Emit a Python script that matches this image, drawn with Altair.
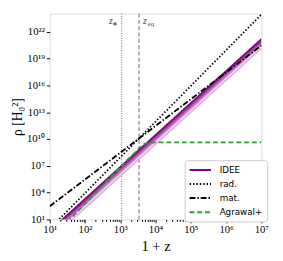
import altair as alt
import pandas as pd

# ---- data ----
x_ends = [1e1, 1e7]
# IDEE family (log10 rho at 1+z = 10 and 1+z = 1e7), dark -> light
idee_logy = [
    [-0.29, 21.2],
    [-0.49, 21.0],
    [-0.69, 20.8],
    [-0.89, 20.6],
    [-1.3, 20.2],
]
idee_colors = ["#800080", "#9b3a9b", "#b566b5", "#cc8fcc", "#ddb5df"]
rad_y = [0.9, 9e23]
mat_y = [300.0, 3e20]
agr_logx = [1.5, 1.68, 2.0, 2.5, 3.0, 3.2, 3.4, 3.5, 3.6, 3.7, 3.8, 4.0, 7.0]
agr_logy = [0.71, 1.45, 2.76, 4.81, 6.86, 7.68, 8.45, 8.85, 9.25, 9.5, 9.6, 9.63, 9.63]
z_star = 1090.0
z_eq = 3400.0

series_names = ["IDEE", "rad.", "mat.", "Agrawal+"]
series_colors = ["#800080", "black", "black", "#2ca02c"]
series_dash = [[1, 0], [1.5, 2], [6, 2, 1.5, 2], [5, 3]]

x_major = [1e1, 1e2, 1e3, 1e4, 1e5, 1e6, 1e7]
x_minor = [m * 10 ** k for k in range(1, 7) for m in range(2, 10)]
y_major = [1e1, 1e4, 1e7, 1e10, 1e13, 1e16, 1e19, 1e22]

# ---- tables ----
rows = []
for i in range(2):
    rows.append({"x": x_ends[i], "y": 10 ** idee_logy[0][i], "series": "IDEE", "o": i})
    rows.append({"x": x_ends[i], "y": rad_y[i], "series": "rad.", "o": i})
    rows.append({"x": x_ends[i], "y": mat_y[i], "series": "mat.", "o": i})
for i, (lx, ly) in enumerate(zip(agr_logx, agr_logy)):
    rows.append({"x": 10 ** lx, "y": 10 ** ly, "series": "Agrawal+", "o": i})
main = pd.DataFrame(rows)

SUP = "⁰¹²³⁴⁵⁶⁷⁸⁹"
E = "round(log(datum.value)/LN10)"
label_expr = (
    f"'10' + ({E} >= 10 ? substring('{SUP}', floor({E}/10), floor({E}/10)+1) : '') + "
    f"substring('{SUP}', {E} % 10, {E} % 10 + 1)"
)

xscale = alt.Scale(type="log", domain=[1e1, 1e7], nice=False)
yscale = alt.Scale(type="log", domain=[1e1, 1.12e24], nice=False)

xaxis = alt.Axis(
    values=x_major, labelExpr=label_expr, title="1 + z", grid=False, domain=False,
    tickSize=3.5, orient="bottom",
    tickColor="black", labelFont="Liberation Serif", labelFontSize=11,
    labelColor="black", labelPadding=1, titleFont="Liberation Serif",
    titleFontSize=15, titleFontWeight="normal", titleColor="black", titlePadding=5,
    labelFlush=False, labelOverlap=False,
)
xaxis_minor = alt.Axis(
    values=x_minor, labels=False, title=None, grid=False, domain=False,
    tickSize=2, tickColor="black", orient="bottom",
)
yaxis = alt.Axis(
    values=y_major, labelExpr=label_expr, title="ρ [H₀²]", grid=False, domain=False,
    tickSize=3.5, tickColor="black", labelFont="Liberation Serif", labelFontSize=11,
    labelColor="black", labelPadding=2, titleFont="Liberation Serif",
    titleFontSize=14, titleFontWeight="normal", titleColor="black",
    titleX=-33, titleY=106, titleAlign="center", titleBaseline="middle", titleAngle=270,
    labelFlush=False, labelOverlap=False,
)

legend_kw = dict(
    title=None, orient="none", legendX=139, legendY=151,
    symbolType="M-1,0H3.4", symbolSize=100, symbolStrokeWidth=2,
    labelFont="DejaVu Sans", labelFontSize=9, labelColor="black",
    padding=4, rowPadding=3.5, strokeColor="#cccccc", fillColor="white",
    cornerRadius=3, labelOffset=20, offset=0,
)

layers = []
# vertical markers
vdf = pd.DataFrame({"x": [z_star + 1]})
layers.append(
    alt.Chart(vdf).mark_rule(color="#808080", strokeWidth=1.2, strokeDash=[1, 1.5]).encode(
        x=alt.X("x:Q", scale=xscale, axis=xaxis)
    )
)
vdf2 = pd.DataFrame({"x": [z_eq + 1]})
layers.append(
    alt.Chart(vdf2).mark_rule(color="#808080", strokeWidth=1.2, strokeDash=[4, 2.5]).encode(
        x=alt.X("x:Q", scale=xscale, axis=xaxis_minor)
    )
)

# lighter IDEE curves (drawn first)
for j in range(len(idee_logy) - 1, 0, -1):
    d = pd.DataFrame({"x": x_ends, "y": [10 ** v for v in idee_logy[j]]})
    layers.append(
        alt.Chart(d).mark_line(color=idee_colors[j], strokeWidth=2, clip=True).encode(
            x=alt.X("x:Q", scale=xscale, axis=None),
            y=alt.Y("y:Q", scale=yscale, axis=yaxis),
        )
    )

layers.append(
    alt.Chart(main).mark_line(strokeWidth=1.8, clip=True).encode(
        x=alt.X("x:Q", scale=xscale, axis=None),
        y=alt.Y("y:Q", scale=yscale, axis=yaxis),
        order="o:Q",
        color=alt.Color(
            "series:N",
            scale=alt.Scale(domain=series_names, range=series_colors),
            legend=alt.Legend(**legend_kw),
        ),
        strokeDash=alt.StrokeDash(
            "series:N",
            scale=alt.Scale(domain=series_names, range=series_dash),
            legend=alt.Legend(**legend_kw),
        ),
    )
)

# z labels
def label(x, t, size, dx, y, align, italic):
    d = pd.DataFrame({"x": [x], "t": [t]})
    kw = dict(font="Liberation Serif", fontSize=size, color="#444444", align=align,
              dx=dx, baseline="middle")
    if italic:
        kw["fontStyle"] = "italic"
    return alt.Chart(d).mark_text(**kw).encode(
        x=alt.X("x:Q", scale=xscale, axis=None), y=alt.value(y), text="t:N")

layers.append(label(z_star, "z", 10, -9, 8, "right", True))
layers.append(label(z_star, "∗", 7, -4, 11, "right", False))
layers.append(label(z_eq, "z", 10, 4, 8, "left", True))
layers.append(label(z_eq, "eq", 7, 9, 11, "left", False))

chart = alt.layer(*layers).resolve_axis(x="independent").properties(
    width=218, height=212,
    autosize=alt.AutoSizeParams(type="none"),
    padding={"left": 43, "top": 2, "right": 14, "bottom": 39},
).configure_view(stroke="#222222", strokeWidth=1.1).configure(background="white")

chart.save("out.html", embed_options={"renderer": "svg", "actions": False})
